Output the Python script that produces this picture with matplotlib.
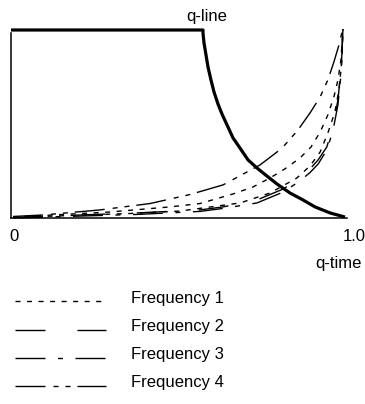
import matplotlib
matplotlib.use("Agg")
import matplotlib.pyplot as plt
from matplotlib.lines import Line2D

plt.rcParams["font.family"] = ["Liberation Sans", "DejaVu Sans"]
plt.rcParams["font.size"] = 12
plt.rcParams["lines.scale_dashes"] = False

# q-line: flat at 1.0, then decays to zero
qline_x = [0.0, 0.5714, 0.5714, 0.5744, 0.5804, 0.5863, 0.5952, 0.6042,
           0.6161, 0.6280, 0.6429, 0.6607, 0.6815, 0.7054, 0.7321, 0.7619,
           0.7917, 0.8304, 0.8690, 0.9048, 0.9494, 0.994]
qline_y = [1.0, 1.0, 0.984, 0.931, 0.867, 0.803, 0.734, 0.670,
           0.606, 0.553, 0.495, 0.426, 0.372, 0.309, 0.266, 0.223,
           0.181, 0.133, 0.096, 0.059, 0.027, 0.005]

# frequency curves over q-time
freq4_x = [0.006, 0.095, 0.265, 0.414, 0.533, 0.631, 0.741, 0.807, 0.854,
           0.890, 0.920, 0.943, 0.961, 0.976, 0.988]
freq4_y = [0.008, 0.016, 0.043, 0.077, 0.125, 0.176, 0.282, 0.372, 0.468,
           0.559, 0.644, 0.734, 0.830, 0.920, 1.011]

freq1_x = [0.006, 0.295, 0.473, 0.5625, 0.661, 0.720, 0.771, 0.815, 0.860,
           0.893, 0.920, 0.943, 0.961, 0.973, 0.982, 0.988]
freq1_y = [0.005, 0.032, 0.059, 0.077, 0.128, 0.165, 0.213, 0.261, 0.319,
           0.378, 0.457, 0.548, 0.644, 0.734, 0.840, 1.005]

freq1b_x = [0.006, 0.354, 0.503, 0.682, 0.771, 0.851, 0.890, 0.920, 0.943,
            0.964, 0.976, 0.985, 0.988]
freq1b_y = [0.003, 0.024, 0.037, 0.080, 0.133, 0.213, 0.277, 0.351, 0.452,
            0.564, 0.681, 0.840, 1.005]

freq2_x = [0.006, 0.375, 0.5625, 0.631, 0.732, 0.810, 0.860, 0.890, 0.914,
           0.940, 0.958, 0.973, 0.982, 0.988]
freq2_y = [0.003, 0.027, 0.043, 0.059, 0.096, 0.154, 0.213, 0.261, 0.309,
           0.378, 0.484, 0.628, 0.787, 1.005]

freq3_x = [0.006, 0.375, 0.5625, 0.631, 0.732, 0.810, 0.860, 0.890, 0.914,
           0.940, 0.958, 0.973, 0.982, 0.988]
freq3_y = [0.0, 0.019, 0.035, 0.051, 0.080, 0.138, 0.197, 0.242, 0.287,
           0.362, 0.463, 0.601, 0.761, 1.005]

legend_labels = ["Frequency 1", "Frequency 2", "Frequency 3", "Frequency 4"]

# dash patterns in points
dash1 = (0, (3.6, 4.7))
dash2 = (0, (21.6, 23.0))
dash3 = (0, (21.6, 9.0, 3.6, 9.0))
dash4 = (0, (21.6, 5.8, 3.6, 5.0, 3.6, 5.0))
legend_styles = [dash1, dash2, dash3, dash4]

fig = plt.figure(figsize=(3.65, 4.04), dpi=100)
ax = fig.add_axes([11 / 365, 1 - 218 / 404, 336 / 365, 188 / 404])
ax.set_xlim(0, 1)
ax.set_ylim(0, 1)

lw = 1.0
ax.plot(freq1_x, freq1_y, color="black", lw=lw, linestyle=dash1, clip_on=False)
ax.plot(freq1b_x, freq1b_y, color="black", lw=lw, linestyle=dash1, clip_on=False)
ax.plot(freq2_x, freq2_y, color="black", lw=lw, linestyle=dash2, clip_on=False)
ax.plot(freq3_x, freq3_y, color="black", lw=lw, linestyle=dash3, clip_on=False)
ax.plot(freq4_x, freq4_y, color="black", lw=lw, linestyle=dash4, clip_on=False)
ax.plot(qline_x, qline_y, color="black", lw=2.3, solid_capstyle="butt",
        solid_joinstyle="round", clip_on=False)

for side in ("top", "right"):
    ax.spines[side].set_visible(False)
ax.spines["left"].set_bounds(0, 0.985)
ax.spines["left"].set_linewidth(1.1)
ax.spines["bottom"].set_linewidth(1.1)
ax.set_yticks([])
ax.set_xticks([])

ax.annotate("0", xy=(0, 0), xycoords=("data", "axes fraction"),
            xytext=(2, -8), textcoords="offset points", ha="center", va="top")
ax.annotate("1.0", xy=(1, 0), xycoords=("data", "axes fraction"),
            xytext=(5, -8), textcoords="offset points", ha="center", va="top")
ax.annotate("q-time", xy=(1, 0), xycoords=("data", "axes fraction"),
            xytext=(-6, -33), textcoords="offset points", ha="center",
            va="center")
fig.text(207 / 365, 1 - 16 / 404, "q-line", ha="center", va="center")

# manual legend below the plot
row_y = [301, 330, 358, 386]
for label, style, y in zip(legend_labels, legend_styles, row_y):
    fy = 1 - y / 404
    fig.add_artist(Line2D([15 / 365, 106 / 365], [fy, fy], color="black",
                          lw=lw, linestyle=style))
    fig.text(131 / 365, 1 - (y - 3) / 404, label, ha="left", va="center")

fig.savefig("out.png", dpi=100)
